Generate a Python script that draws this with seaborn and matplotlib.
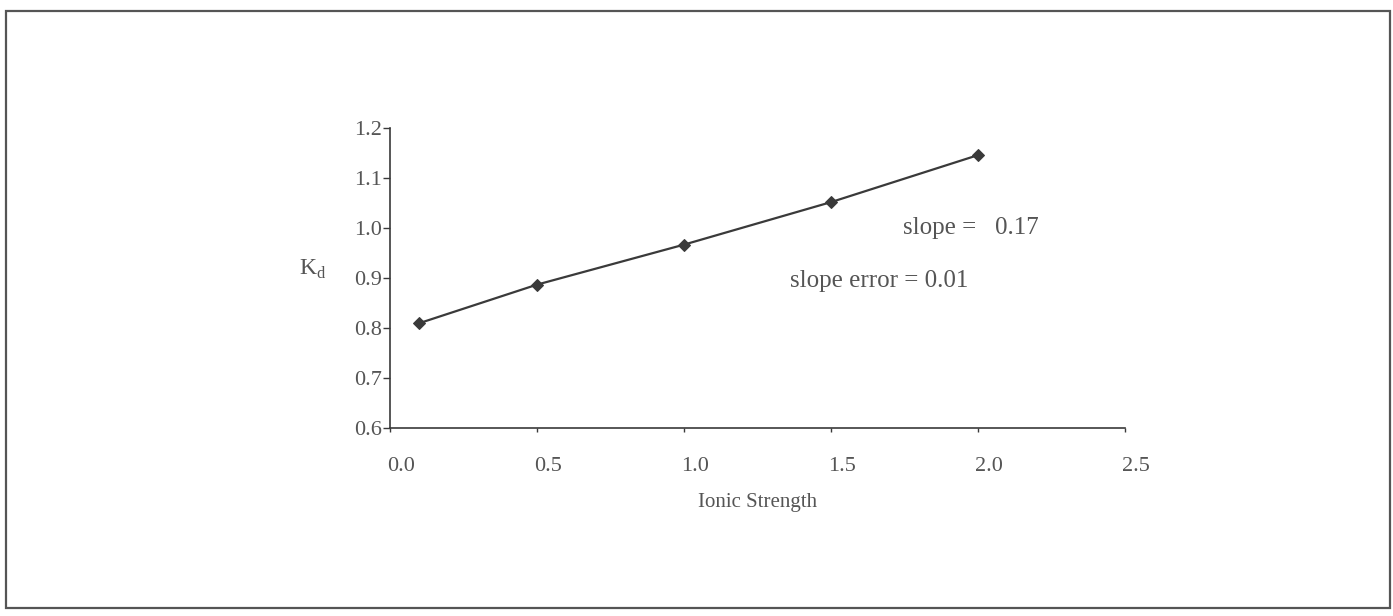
import matplotlib
matplotlib.use("Agg")
import matplotlib.pyplot as plt
import matplotlib.transforms as mtransforms
from matplotlib.patches import Rectangle
import seaborn as sns
import pandas as pd

# Data
ionic_strength = [0.1, 0.5, 1.0, 1.5, 2.0]
kd_values = [0.81, 0.887, 0.967, 1.052, 1.146]
x_ticks = [0.0, 0.5, 1.0, 1.5, 2.0, 2.5]
y_ticks = [0.6, 0.7, 0.8, 0.9, 1.0, 1.1, 1.2]
slope_text = "slope =   0.17"
slope_err_text = "slope error = 0.01"

sns.set_theme(style="ticks")
plt.rcParams['font.family'] = ['Liberation Serif', 'DejaVu Serif']
plt.rcParams['mathtext.fontset'] = 'custom'
plt.rcParams['mathtext.rm'] = 'Liberation Serif'

ink = "#3a3a3a"
txt = "#555555"

fig = plt.figure(figsize=(13.93, 6.16), dpi=100)
fig.patch.set_facecolor("white")
ax = fig.add_axes([0.280, 0.305, 0.5276, 0.487])

df = pd.DataFrame({"Ionic Strength": ionic_strength, "Kd": kd_values})
sns.lineplot(data=df, x="Ionic Strength", y="Kd", ax=ax, color=ink,
             marker="D", markersize=6, markeredgecolor=ink, linewidth=1.6)

ax.set_xlim(0.0, 2.5)
ax.set_ylim(0.6, 1.2)
ax.set_xticks(x_ticks)
ax.set_yticks(y_ticks)
ax.set_xticklabels([f"{v:.1f}" for v in x_ticks])
ax.set_yticklabels([f"{v:.1f}" for v in y_ticks])

for s in ["top", "right"]:
    ax.spines[s].set_visible(False)
for s in ["left", "bottom"]:
    ax.spines[s].set_color(ink)
    ax.spines[s].set_linewidth(1.2)

ax.tick_params(axis="y", direction="out", length=5, width=1, color=ink,
               labelsize=16, labelcolor=txt, pad=1)
ax.tick_params(axis="x", direction="out", length=3, width=1, color=ink,
               labelsize=16, labelcolor=txt, pad=18)

offset = mtransforms.ScaledTranslation(11 / 100, 0, fig.dpi_scale_trans)
for lab in ax.get_xticklabels():
    lab.set_transform(lab.get_transform() + offset)

ax.set_xlabel("Ionic Strength", fontsize=15, color=txt, labelpad=12)
ax.set_ylabel("")
ax.text(-0.105, 0.53, r"K$_{\mathrm{d}}$", transform=ax.transAxes,
        fontsize=17, color=txt, ha="center", va="center")

ax.text(1.745, 1.0, slope_text, fontsize=18, color=txt, va="center", ha="left")
ax.text(1.36, 0.894, slope_err_text, fontsize=18, color=txt, va="center", ha="left")

ax.set_facecolor("white")
ax.grid(False)

# outer frame of the original figure
frame = Rectangle((0.004, 0.013), 0.994, 0.969, transform=fig.transFigure,
                  fill=False, edgecolor="#555555", linewidth=1.6)
fig.patches.append(frame)

fig.savefig("out.png", dpi=100, facecolor="white")
